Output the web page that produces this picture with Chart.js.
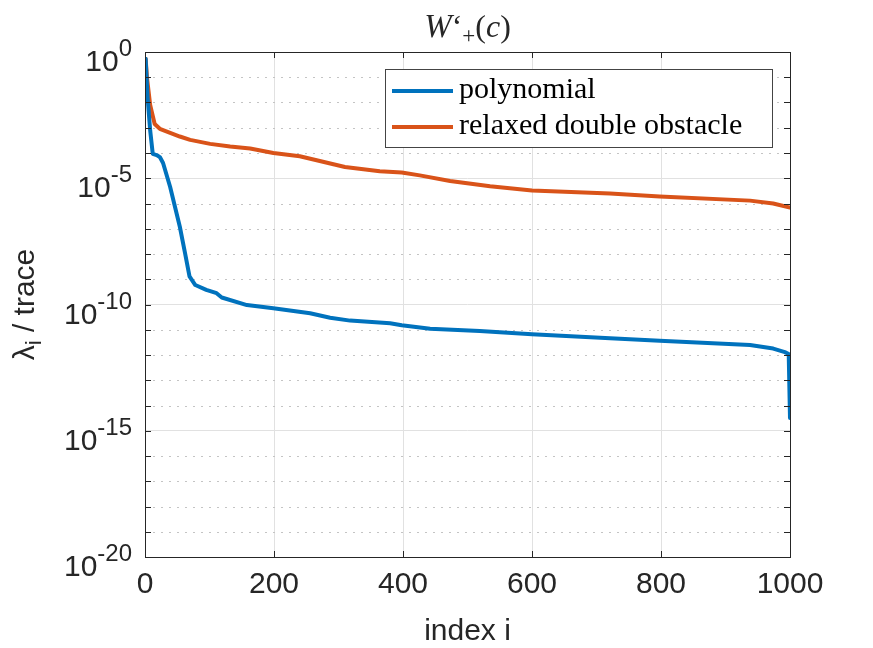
<!DOCTYPE html>
<html>
<head>
<meta charset="utf-8">
<script src="https://cdn.jsdelivr.net/npm/chart.js@4.4.0/dist/chart.umd.min.js"></script>
<style>
  html, body { margin:0; padding:0; background:#fff; }
  #wrap { width:873px; height:648px; }
</style>
</head>
<body>
<div id="wrap"><canvas id="chart" width="873" height="648"></canvas></div>
<script>
/* ── DATA ──────────────────────────────── */
const SERIES_NAMES = ['polynomial', 'relaxed double obstacle'];

// polynomial: index i and lambda_i / trace
const POLY_IDX = [1, 4, 8, 12, 18, 23, 28, 39, 54, 62, 69, 78, 95, 111, 119, 158, 199, 256, 287, 318,
                  380, 398, 442, 519, 600, 721, 798, 938, 974, 992, 998, 1000];
const POLY_VAL = [5.4e-1, 1.6e-2, 7.9e-4, 9.3e-5, 8.3e-5, 6.9e-5, 4.0e-5, 4.5e-6, 1.2e-7, 1.1e-8,
                  1.3e-9, 5.9e-10, 3.8e-10, 2.8e-10, 1.9e-10, 9.5e-11, 7.1e-11, 4.5e-11, 3.0e-11, 2.3e-11,
                  1.8e-11, 1.5e-11, 1.1e-11, 8.9e-12, 6.6e-12, 4.6e-12, 3.7e-12, 2.5e-12, 1.8e-12, 1.3e-12,
                  1.1e-12, 3.2e-15];

// relaxed double obstacle
const ODO_IDX = [1, 3, 8, 15, 23, 39, 54, 70, 101, 132, 163, 199, 240, 271, 310, 364, 398, 426, 473,
                 535, 600, 721, 798, 938, 974, 1000];
const ODO_VAL = [5.4e-1, 1.0e-1, 7.9e-3, 1.4e-3, 9.1e-4, 6.3e-4, 4.5e-4, 3.3e-4, 2.3e-4, 1.8e-4,
                 1.5e-4, 1.0e-4, 7.4e-5, 4.8e-5, 2.8e-5, 1.9e-5, 1.7e-5, 1.3e-5, 7.8e-6,
                 4.8e-6, 3.3e-6, 2.5e-6, 1.9e-6, 1.3e-6, 1.0e-6, 6.9e-7];

const X_TICKS = [0, 200, 400, 600, 800, 1000];
const X_LABELS = ['0', '200', '400', '600', '800', '1000'];
const Y_TICKS = [1e0, 1e-1, 1e-2, 1e-3, 1e-4, 1e-5, 1e-6, 1e-7, 1e-8, 1e-9, 1e-10,
                 1e-11, 1e-12, 1e-13, 1e-14, 1e-15, 1e-16, 1e-17, 1e-18, 1e-19, 1e-20];
const Y_MAJOR = [1e0, 1e-5, 1e-10, 1e-15, 1e-20];
const Y_MAJOR_EXP = ['0', '-5', '-10', '-15', '-20'];

/* ── STYLE ─────────────────────────────── */
const BLUE = '#0072BD';
const ORANGE = '#D95319';
const AXIS = '#262626';
const GRID = '#e1e1e1';
const SANS = '"Liberation Sans", Arial, sans-serif';
const SERIF = '"Liberation Serif", "Times New Roman", serif';

const isMajor = v => Y_MAJOR.some(m => Math.abs(Math.log10(m) - Math.log10(v)) < 1e-6);

/* ── DECORATIONS (box, ticks, labels, legend) ── */
const decor = {
  id: 'decor',
  beforeDatasetsDraw(chart) {
    const { ctx, chartArea: a, scales: { y } } = chart;
    ctx.save();
    ctx.strokeStyle = '#c4c4c4';
    ctx.lineWidth = 1;
    ctx.setLineDash([2, 6]);
    Y_TICKS.filter(v => !isMajor(v)).forEach(v => {
      const py = Math.round(y.getPixelForValue(v)) + 0.5;
      ctx.beginPath(); ctx.moveTo(a.left, py); ctx.lineTo(a.right, py); ctx.stroke();
    });
    ctx.restore();
  },
  afterDatasetsDraw(chart) {
    const { ctx, chartArea: a, scales: { x, y } } = chart;
    ctx.save();
    // box
    ctx.strokeStyle = AXIS;
    ctx.lineWidth = 1;
    ctx.strokeRect(a.left + 0.5, a.top + 0.5, a.right - a.left, a.bottom - a.top);
    // ticks (inward)
    ctx.beginPath();
    X_TICKS.forEach(v => {
      const px = Math.round(x.getPixelForValue(v)) + 0.5;
      ctx.moveTo(px, a.bottom); ctx.lineTo(px, a.bottom - 6);
      ctx.moveTo(px, a.top); ctx.lineTo(px, a.top + 6);
    });
    Y_TICKS.forEach(v => {
      const py = Math.round(y.getPixelForValue(v)) + 0.5;
      ctx.moveTo(a.left, py); ctx.lineTo(a.left + 6, py);
      ctx.moveTo(a.right, py); ctx.lineTo(a.right - 6, py);
    });
    ctx.stroke();

    // y tick labels 10^e
    ctx.fillStyle = AXIS;
    ctx.textBaseline = 'alphabetic';
    Y_MAJOR.forEach((v, i) => {
      const py = y.getPixelForValue(v);
      ctx.font = '24px ' + SANS;
      const sw = ctx.measureText(Y_MAJOR_EXP[i]).width;
      ctx.font = '30px ' + SANS;
      const bw = ctx.measureText('10').width;
      const right = a.left - 13;
      ctx.textAlign = 'left';
      ctx.fillText('10', right - sw - bw, py + 19);
      ctx.font = '24px ' + SANS;
      ctx.fillText(Y_MAJOR_EXP[i], right - sw, py + 4);
    });

    // y axis title: lambda_i / trace
    ctx.save();
    ctx.translate(34, (a.top + a.bottom) / 2);
    ctx.rotate(-Math.PI / 2);
    const parts = [
      { t: '\u03bb', f: '30px ' + SANS, dy: 0 },
      { t: 'i', f: '22px ' + SANS, dy: 7 },
      { t: ' / trace', f: '30px ' + SANS, dy: 0 },
    ];
    let tw = 0;
    parts.forEach(p => { ctx.font = p.f; p.w = ctx.measureText(p.t).width; tw += p.w; });
    let cx = -tw / 2;
    ctx.textAlign = 'left';
    parts.forEach(p => { ctx.font = p.f; ctx.fillText(p.t, cx, p.dy); cx += p.w; });
    ctx.restore();

    // x axis title
    ctx.font = '30px ' + SANS;
    ctx.textAlign = 'center';
    ctx.fillText('index i', (a.left + a.right) / 2, 640);

    // title W'_+(c)
    const tparts = [
      { t: 'W', f: 'italic 33px ' + SERIF, dy: 0 },
      { t: '\u2018', f: '32px ' + SERIF, dy: 0 },
      { t: '+', f: '23px ' + SERIF, dy: 6 },
      { t: '(', f: '32px ' + SERIF, dy: 0 },
      { t: 'c', f: 'italic 32px ' + SERIF, dy: 0 },
      { t: ')', f: '32px ' + SERIF, dy: 0 },
    ];
    let ttw = 0;
    tparts.forEach(p => { ctx.font = p.f; p.w = ctx.measureText(p.t).width; ttw += p.w; });
    let tx = (a.left + a.right) / 2 - ttw / 2;
    ctx.textAlign = 'left';
    tparts.forEach(p => { ctx.font = p.f; ctx.fillText(p.t, tx, 37 + p.dy); tx += p.w; });

    // legend
    const lx = 385, ly = 69, lw = 387, lh = 78;
    ctx.fillStyle = '#fff';
    ctx.fillRect(lx, ly, lw, lh);
    ctx.strokeStyle = '#444';
    ctx.lineWidth = 1;
    ctx.strokeRect(lx + 0.5, ly + 0.5, lw, lh);
    chart.data.datasets.forEach((ds, i) => {
      const yy = 91 + i * 36;
      ctx.strokeStyle = ds.borderColor;
      ctx.lineWidth = 4;
      ctx.beginPath(); ctx.moveTo(392, yy); ctx.lineTo(453, yy); ctx.stroke();
      ctx.fillStyle = '#000';
      ctx.font = '30px ' + SERIF;
      ctx.fillText(ds.label, 459, yy + 7);
    });
    ctx.restore();
  }
};

/* ── CHART ─────────────────────────────── */
new Chart(document.getElementById('chart'), {
  type: 'line',
  data: {
    datasets: [
      {
        label: SERIES_NAMES[0],
        data: POLY_IDX.map((v, i) => ({ x: v, y: POLY_VAL[i] })),
        borderColor: BLUE, borderWidth: 4, pointRadius: 0, tension: 0, fill: false,
        borderJoinStyle: 'round', borderCapStyle: 'round',
      },
      {
        label: SERIES_NAMES[1],
        data: ODO_IDX.map((v, i) => ({ x: v, y: ODO_VAL[i] })),
        borderColor: ORANGE, borderWidth: 4, pointRadius: 0, tension: 0, fill: false,
        borderJoinStyle: 'round', borderCapStyle: 'round',
      },
    ]
  },
  options: {
    responsive: false,
    animation: false,
    devicePixelRatio: 1,
    layout: { padding: { left: 0, top: 52, right: 83, bottom: 0 } },
    plugins: { legend: { display: false }, tooltip: { enabled: false }, title: { display: false } },
    scales: {
      x: {
        type: 'linear', min: 0, max: 1000,
        afterBuildTicks: s => { s.ticks = X_TICKS.map(v => ({ value: v })); },
        afterFit: s => { s.height = 91; },
        grid: { color: GRID, drawTicks: false },
        border: { display: false },
        ticks: {
          color: AXIS, font: { family: SANS, size: 30 }, padding: 10, maxRotation: 0,
          callback: (v, i) => X_LABELS[i],
        },
      },
      y: {
        type: 'logarithmic', min: 1e-20, max: 1,
        afterBuildTicks: s => { s.ticks = Y_TICKS.map(v => ({ value: v })); },
        afterFit: s => { s.width = 145; },
        grid: { color: c => isMajor(c.tick.value) ? GRID : 'rgba(0,0,0,0)', drawTicks: false },
        border: { display: false },
        ticks: { display: false },
      }
    }
  },
  plugins: [decor]
});
</script>
</body>
</html>
